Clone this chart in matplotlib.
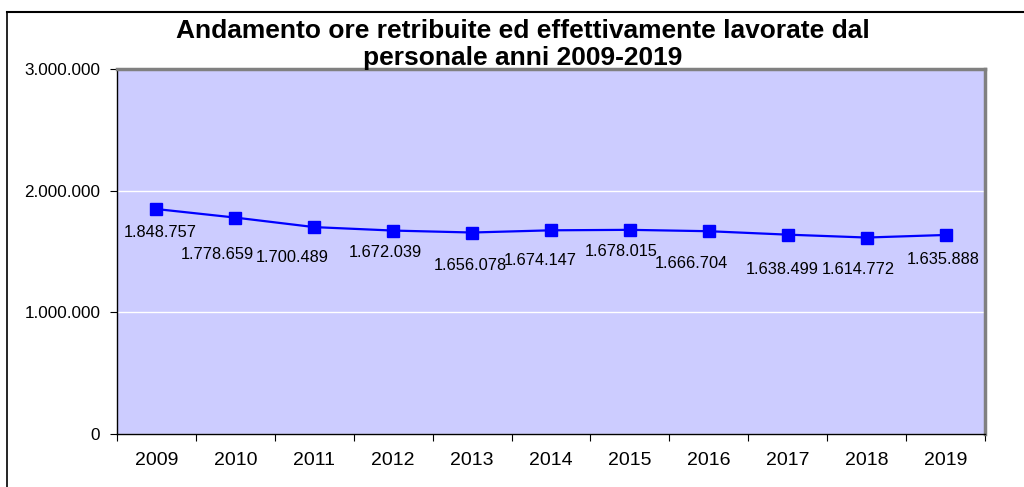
import matplotlib
matplotlib.use('Agg')
import matplotlib.pyplot as plt
from matplotlib.lines import Line2D
from matplotlib.ticker import FuncFormatter, FixedLocator

anni = ['2009', '2010', '2011', '2012', '2013', '2014', '2015', '2016', '2017', '2018', '2019']
ore = [1848757, 1778659, 1700489, 1672039, 1656078, 1674147, 1678015, 1666704, 1638499, 1614772, 1635888]
etichette = ['1.848.757', '1.778.659', '1.700.489', '1.672.039', '1.656.078', '1.674.147',
             '1.678.015', '1.666.704', '1.638.499', '1.614.772', '1.635.888']

# spostamenti delle etichette (pixel) rispetto al punto
spost_x = [4, -18, -22, -8, -2, -11, -9, -17, -6, -8, -2]
spost_y = [-23, -37, -30, -22, -33, -30, -22, -32, -35, -32, -25]

plt.rcParams['font.family'] = ['Liberation Sans', 'DejaVu Sans']

fig = plt.figure(figsize=(10.24, 4.87), dpi=100)
ax = fig.add_axes([117 / 1024, 1 - 434 / 487, (985 - 117) / 1024, (434 - 69) / 487])

x = list(range(len(anni)))
ax.set_facecolor('#CCCCFF')
ax.plot(x, ore, color='#0000FF', linewidth=1.6, marker='s', markersize=8.5,
        markerfacecolor='#0000FF', markeredgecolor='#0000FF', zorder=3)

for i, (v, lab) in enumerate(zip(ore, etichette)):
    ax.annotate(lab, (i, v), xytext=(spost_x[i], spost_y[i]), textcoords='offset pixels',
                ha='center', va='center', fontsize=11.8, color='black')

ax.set_ylim(0, 3000000)
ax.set_yticks([0, 1000000, 2000000, 3000000])
ax.yaxis.set_major_formatter(FuncFormatter(lambda v, p: '0' if v == 0 else f'{int(v):,}'.replace(',', '.')))
ax.grid(True, axis='y', color='white', linewidth=1)
ax.set_axisbelow(True)

ax.set_xlim(-0.5, len(anni) - 0.5)
ax.xaxis.set_major_locator(FixedLocator([i - 0.5 for i in range(len(anni) + 1)]))
ax.xaxis.set_major_formatter(FuncFormatter(lambda v, p: ''))
ax.xaxis.set_minor_locator(FixedLocator(x))
ax.set_xticklabels(anni, minor=True)
ax.tick_params(axis='x', which='minor', length=0, pad=13, labelsize=14)
ax.tick_params(axis='x', which='major', length=5, direction='out')
ax.tick_params(axis='y', length=5, pad=7, labelsize=12.3)

ax.spines['left'].set_color('black')
ax.spines['bottom'].set_color('black')
ax.spines['top'].set_color('#808080')
ax.spines['right'].set_color('#808080')
ax.spines['top'].set_linewidth(2.5)
ax.spines['right'].set_linewidth(2.5)
ax.spines['left'].set_linewidth(1)
ax.spines['bottom'].set_linewidth(1)

fig.text(523 / 1024, 1 - 31 / 487, 'Andamento ore retribuite ed effettivamente lavorate dal',
         ha='center', va='center', fontsize=19, fontweight='bold')
fig.text(523 / 1024, 1 - 58 / 487, 'personale anni 2009-2019',
         ha='center', va='center', fontsize=19, fontweight='bold')

# cornice esterna del grafico
fig.add_artist(Line2D([7 / 1024, 7 / 1024], [0, 1 - 12 / 487], color='black', linewidth=1.2))
fig.add_artist(Line2D([7 / 1024, 1], [1 - 12 / 487, 1 - 12 / 487], color='black', linewidth=1.5))

plt.savefig('out.png', dpi=100)
plt.close()
